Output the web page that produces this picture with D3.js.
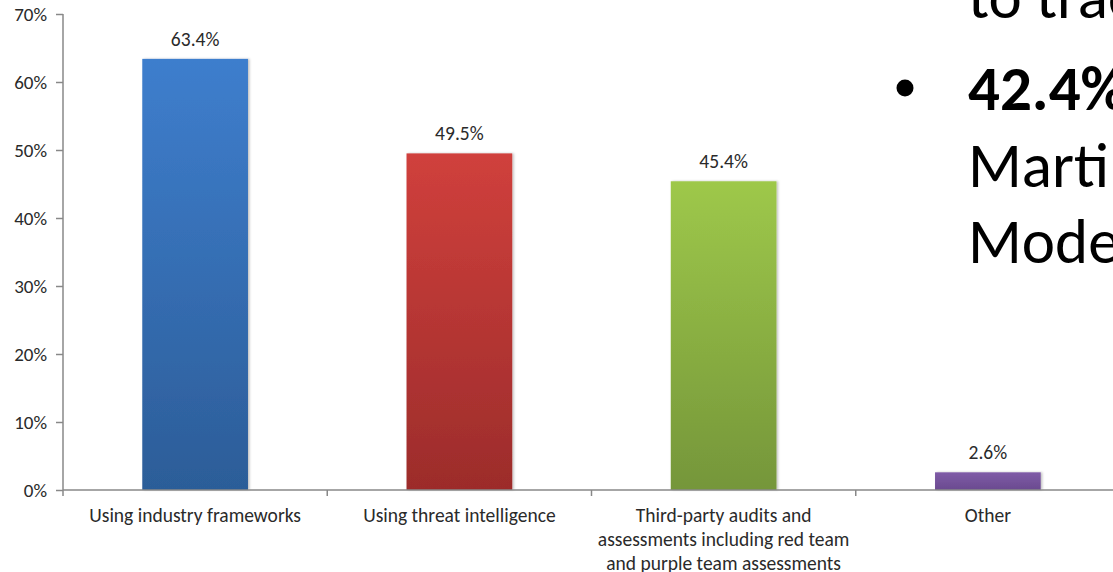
<!DOCTYPE html>
<html>
<head>
<meta charset="utf-8">
<script src="https://cdn.jsdelivr.net/npm/d3@7"></script>
<style>
  html, body { margin: 0; padding: 0; background: #fff; overflow: hidden; }
  svg { display: block; }
  text { font-family: Carlito, Lato, "Open Sans", sans-serif; }
</style>
</head>
<body>
<svg id="chart" width="1113" height="572"></svg>
<script>
// Survey results: how organisations assess their security posture
const categories = [
  ["Using industry frameworks"],
  ["Using threat intelligence"],
  ["Third-party audits and", "assessments including red team", "and purple team assessments"],
  ["Other"]
];
const values = [63.4, 49.5, 45.4, 2.6];
const yTicks = [0, 10, 20, 30, 40, 50, 60, 70];
const barTop = ["#3e7ecd", "#d0403c", "#9ec84a", "#7f5ba7"];
const barBottom = ["#2c5d98", "#9c2c2b", "#75963a", "#6a4a8f"];
const sideLines = ["to trac", "42.4%", "Marti", "Mode"];

const svg = d3.select("#chart");
const margin = { left: 63, top: 14, bottom: 82 };
const plotBottom = 572 - margin.bottom;
const axisColor = "#888888";
const textColor = "#2a2a2a";
const font = "Carlito, Lato, 'Open Sans', sans-serif";

const x = d3.scaleBand()
  .domain(d3.range(categories.length))
  .range([margin.left, 1120])
  .paddingInner(0.6)
  .paddingOuter(0.3);
const step = x.step();

const y = d3.scaleLinear().domain([0, 70]).range([plotBottom, margin.top]);

// gradients and soft shadow
const defs = svg.append("defs");
values.forEach((v, i) => {
  const g = defs.append("linearGradient")
    .attr("id", "grad" + i)
    .attr("x1", 0).attr("y1", 0).attr("x2", 0).attr("y2", 1);
  g.append("stop").attr("offset", "0%").attr("stop-color", barTop[i]);
  g.append("stop").attr("offset", "100%").attr("stop-color", barBottom[i]);
});
const shadow = defs.append("filter").attr("id", "shadow")
  .attr("x", "-10%").attr("y", "-10%").attr("width", "130%").attr("height", "130%");
shadow.append("feDropShadow")
  .attr("dx", 1.5).attr("dy", 0).attr("stdDeviation", 1)
  .attr("flood-color", "#000").attr("flood-opacity", 0.25);

// bars
svg.append("g").selectAll("rect")
  .data(values)
  .join("rect")
  .attr("x", (d, i) => x(i))
  .attr("width", x.bandwidth())
  .attr("y", d => y(d))
  .attr("height", d => y(0) - y(d))
  .attr("fill", (d, i) => `url(#grad${i})`)
  .attr("filter", "url(#shadow)");

// value labels
svg.append("g").selectAll("text")
  .data(values)
  .join("text")
  .attr("x", (d, i) => x(i) + x.bandwidth() / 2)
  .attr("y", d => y(d) - 13)
  .attr("text-anchor", "middle")
  .attr("font-size", 19.5)
  .attr("fill", textColor)
  .text(d => d.toFixed(1) + "%");

// y axis
const yAxis = svg.append("g")
  .attr("transform", `translate(${margin.left},0)`)
  .call(d3.axisLeft(y).tickValues(yTicks).tickSize(7).tickPadding(9)
    .tickFormat(d => d + "%"));
yAxis.select(".domain").attr("stroke", axisColor).attr("stroke-width", 1.5)
  .attr("d", `M0,${margin.top}V${plotBottom + 6}`);
yAxis.selectAll(".tick line").attr("stroke", axisColor).attr("stroke-width", 1.5);
yAxis.selectAll(".tick text")
  .attr("font-family", font)
  .attr("font-size", 19).attr("fill", textColor);

// x axis with ticks on band boundaries
const xAxis = svg.append("g").attr("transform", `translate(0,${plotBottom})`);
xAxis.append("line")
  .attr("x1", margin.left).attr("x2", 1120)
  .attr("stroke", axisColor).attr("stroke-width", 1.5);
xAxis.selectAll("line.tick")
  .data(d3.range(1, categories.length + 1))
  .join("line")
  .attr("class", "tick")
  .attr("x1", i => margin.left + i * step).attr("x2", i => margin.left + i * step)
  .attr("y1", 0).attr("y2", 6)
  .attr("stroke", axisColor).attr("stroke-width", 1.5);

// category labels
const catG = svg.append("g");
categories.forEach((lines, i) => {
  const t = catG.append("text")
    .attr("text-anchor", "middle")
    .attr("font-size", 19.5)
    .attr("fill", textColor);
  lines.forEach((ln, j) => {
    t.append("tspan")
      .attr("x", x(i) + x.bandwidth() / 2)
      .attr("y", plotBottom + 32 + j * 24)
      .text(ln);
  });
});

// side text (slide bullet)
const side = svg.append("g").attr("fill", "#000");
const sideY = [18, 110, 187, 263];
sideLines.forEach((s, i) => {
  side.append("text")
    .attr("x", 968)
    .attr("y", sideY[i])
    .attr("font-size", 63)
    .attr("font-weight", i === 1 ? "bold" : "normal")
    .text(s);
});
side.append("circle").attr("cx", 905).attr("cy", 88).attr("r", 8.5);
</script>
</body>
</html>
